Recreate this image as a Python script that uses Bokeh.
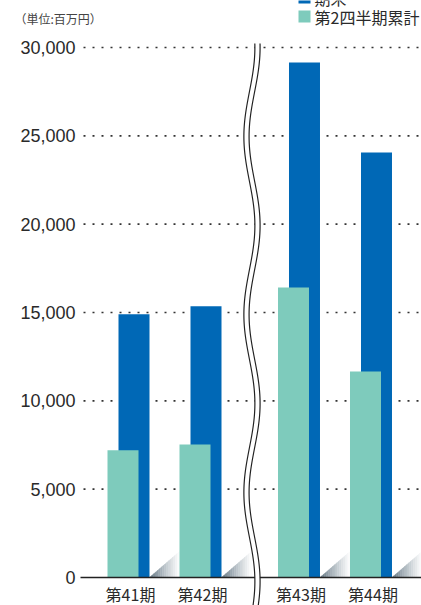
import numpy as np
from bokeh.plotting import figure
from bokeh.models import Range1d
from bokeh.core.properties import value
from bokeh.embed import file_html
from bokeh.resources import INLINE

# ---- data ----
periods = ["第41期", "第42期", "第43期", "第44期"]
year_end = [14900, 15350, 29150, 24050]      # 期末
q2_cumulative = [7200, 7530, 16410, 11660]   # 第2四半期累計
y_ticks = [0, 5000, 10000, 15000, 20000, 25000, 30000]
y_tick_labels = ["0", "5,000", "10,000", "15,000", "20,000", "25,000", "30,000"]
unit_label = "（単位:百万円）"
legend_labels = ["期末", "第2四半期累計"]

# ---- layout constants ----
BLUE = "#0068b6"
GREEN = "#7ecbbc"
JP = "Noto Sans CJK JP"
PXX = 72.0                 # pixels per x unit
KY = 30000 / 530.0         # y data units per pixel
W, H = 421, 605
OX, OY = 0, 0              # page offset of the canvas

def xd(px):   # page px -> data x
    return (px - 128) / PXX

def yd(py):   # page px -> data y
    return (577 - py) * KY

p = figure(width=W, height=H, output_backend="svg", toolbar_location=None,
           x_range=Range1d(xd(OX), xd(OX + W)), y_range=Range1d(yd(OY + H), yd(OY)),
           x_axis_location=None, y_axis_location=None, min_border=0)
p.outline_line_color = None
p.xgrid.visible = False
p.ygrid.visible = False
p.background_fill_color = "white"

gap = 0.368
pos = [i + (gap if i >= 2 else 0) for i in range(len(periods))]
break_x = 1.715
bar_w = 31 / PXX
off = 5.5 / PXX

# grid lines (dotted)
gx0, gx1 = xd(83), xd(OX + W)
gy = [t for t in y_ticks if t > 0]
p.segment(x0=[gx0] * len(gy), y0=gy, x1=[gx1] * len(gy), y1=gy,
          line_color="#333333", line_width=1.6, line_dash="2 7")

# y tick labels
p.text(x=[xd(75)] * len(y_ticks), y=y_ticks, text=y_tick_labels,
       text_align="right", text_baseline="middle",
       text_font=value("Liberation Sans"), text_font_size=value("18px"),
       text_color="#2a2a2a")

# shadows (gradient triangles)
dark = np.array([0x48, 0x5e, 0x6e])
white = np.array([255, 255, 255])
sw = 30 / PXX
sh = 26 * KY
N = 14
for i, v in enumerate(year_end):
    bx = pos[i] + off + bar_w / 2
    xs_list, ys_list, cols = [], [], []
    for j in range(N):
        t0, t1 = j / N, (j + 1) / N
        xa, xb = bx + sw * t0, bx + sw * t1
        xs_list.append([xa, xb, xb, xa])
        ys_list.append([0, 0, sh * t1, sh * t0])
        t = (t0 + t1) / 2
        c = dark + (white - dark) * (t ** 0.7)
        cols.append("#%02x%02x%02x" % tuple(int(round(u)) for u in c))
    p.patches(xs=xs_list, ys=ys_list, fill_color=cols, line_color=cols, line_width=0.5)

# bars: blue behind, green in front
p.vbar(x=[q + off for q in pos], top=year_end, width=bar_w,
       fill_color=BLUE, line_color=None)
p.vbar(x=[q - off for q in pos], top=q2_cumulative, width=bar_w,
       fill_color=GREEN, line_color=None)

# baseline
p.segment(x0=[xd(80)], y0=[0], x1=[gx1], y1=[0], line_color="#222222", line_width=1.4)

# break mark (wavy double line)
ypx = np.arange(43, OY + H + 2, 1.0)
xc = (break_x * PXX + 128) + 5.5 * np.cos(2 * np.pi * (ypx - 47) / 178.0)
yy = yd(ypx)
p.line(x=xd(xc), y=yy, line_color="white", line_width=5)
p.line(x=xd(xc - 2.6), y=yy, line_color="#222222", line_width=1.2)
p.line(x=xd(xc + 2.6), y=yy, line_color="#222222", line_width=1.2)

# x category labels
p.text(x=[q + 2 / PXX for q in pos], y=[0] * len(pos), text=periods, y_offset=16,
       text_align="center", text_baseline="middle",
       text_font=value(JP), text_font_size=value("16px"), text_color="#2a2a2a")

# unit label
p.text(x=[xd(14)], y=[yd(18)], text=[unit_label],
       text_align="left", text_baseline="middle",
       text_font=value(JP), text_font_size=value("12px"), text_color="#444444")

# legend (first item is cut off at the top as in the reference)
leg_y = [yd(-3), yd(16)]
p.rect(x=[xd(304)] * 2, y=leg_y, width=12 / PXX, height=12 * KY,
       fill_color=[BLUE, GREEN], line_color=None)
p.text(x=[xd(314)] * 2, y=leg_y, text=legend_labels,
       text_align="left", text_baseline="middle",
       text_font=value(JP), text_font_size=value("16px"), text_color="#2a2a2a")

open("out.html", "w").write(file_html(p, INLINE))
